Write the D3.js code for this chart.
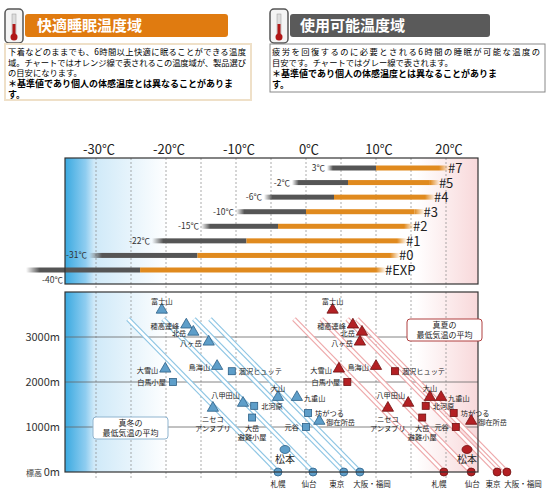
<!DOCTYPE html>
<html><head><meta charset="utf-8">
<script src="https://cdn.jsdelivr.net/npm/d3@7"></script>
<style>body{margin:0;background:#fff}text{font-family:"Noto Sans CJK JP","Noto Sans",sans-serif}</style>
</head><body>
<script>
// top chart: sleeping bag models
var models = ["#7", "#5", "#4", "#3", "#2", "#1", "#0", "#EXP"];
var usableMin = [3, -2, -6, -10, -15, -22, -31, -40];
var comfortMin = [10, 6, 4, 0, -4, -8.5, -15.5, -23.7];
var comfortMax = [19, 17.7, 17, 15.5, 14, 13, 12, 10];
var tempTicks = [-30, -20, -10, 0, 10, 20];
var altTicks = [1000, 2000, 3000];

// bottom chart: places (altitude m, mid-winter low, mid-summer low)
var places = ["富士山", "穂高連峰", "北岳", "八ヶ岳", "大雪山", "鳥海山", "涸沢ヒュッテ", "白馬小屋", "八甲田山", "大山", "九重山", "北河原", "ニセコアンヌプリ", "大岳避難小屋", "元谷", "坊がつる", "御在所岳", "松本"];
var placeType = ["m", "m", "m", "m", "m", "m", "h", "h", "m", "m", "m", "h", "m", "h", "h", "h", "m", "c"];
var placeAlt = [3580, 3250, 3090, 2870, 2270, 2330, 2240, 2000, 1510, 1640, 1640, 1470, 1400, 1210, 1000, 1310, 1110, 500];
var winterLow = [-20.6, -17.1, -16.1, -13.9, -20.1, -12.7, -10.6, -19, -9, -4, -1.3, -7.4, -13.3, -7.7, 0, 0.3, 1.9, -3];
var summerLow = [3.8, 6.7, 8, 7.7, 4.7, 10, 12.7, 5.9, 14.6, 17.7, 19.3, 17.1, 11.7, 16.6, 21.4, 21.1, 23.6, 23];
var cities = ["札幌", "仙台", "東京", "大阪・福岡"];
var cityWinter = [-4, 1, 5.4, 7.7];
var citySummer = [19.7, 23.6, 27.3, 28.7];

var labelPos = {"富士山":"t","穂高連峰":"l","北岳":"l","八ヶ岳":"l","大雪山":"l","鳥海山":"l","涸沢ヒュッテ":"r","白馬小屋":"l","八甲田山":"lt","大山":"t","九重山":"r","北河原":"r","ニセコアンヌプリ":"b","大岳避難小屋":"b","元谷":"l","坊がつる":"r","御在所岳":"r","松本":"b"};
var labelLines = {"ニセコアンヌプリ":["ニセコ","アンヌプリ"],"大岳避難小屋":["大岳","避難小屋"]};
var winterCityShift = [0, -4, -7, 12];
var summerCityShift = [-5, 1, -4, 16];

var svg = d3.select("body").append("svg").attr("width", 550).attr("height", 490);
var defs = svg.append("defs");

var x = d3.scaleLinear().domain([-30, 20]).range([96, 446]);
var y = d3.scaleLinear().domain([0, 3000]).range([472, 337]);
var fL = 65, fR = 478;

// ---------- header panels ----------
function thermo(g, cx) {
  g.append("rect").attr("x", cx - 9).attr("y", 9).attr("width", 18).attr("height", 34).attr("rx", 4)
    .attr("fill", "#f4f4f4").attr("stroke", "#555").attr("stroke-width", 1.5);
  g.append("rect").attr("x", cx - 2).attr("y", 14).attr("width", 4).attr("height", 20).attr("fill", "#ddd").attr("stroke", "#999").attr("stroke-width", 0.5);
  g.append("rect").attr("x", cx - 1.5).attr("y", 24).attr("width", 3).attr("height", 12).attr("fill", "#b01818");
  g.append("circle").attr("cx", cx).attr("cy", 37).attr("r", 3.5).attr("fill", "#b01818");
}
var head = svg.append("g");
head.append("rect").attr("x", 25).attr("y", 14).attr("width", 203).attr("height", 23).attr("rx", 3).attr("fill", "#e07b10");
head.append("rect").attr("x", 290).attr("y", 14).attr("width", 200).attr("height", 23).attr("rx", 3).attr("fill", "#5a5a5a");
head.append("text").attr("x", 37).attr("y", 31).attr("fill", "#fff").attr("font-size", 15).attr("font-weight", "bold").text("快適睡眠温度域");
head.append("text").attr("x", 300).attr("y", 31).attr("fill", "#fff").attr("font-size", 15).attr("font-weight", "bold").text("使用可能温度域");
thermo(head, 14); thermo(head, 279);
head.append("rect").attr("x", 5).attr("y", 44).attr("width", 246).attr("height", 56).attr("fill", "#fff").attr("stroke", "#efe0c8").attr("stroke-width", 2);
head.append("rect").attr("x", 270).attr("y", 44).attr("width", 275).attr("height", 48).attr("fill", "#fff").attr("stroke", "#888").attr("stroke-width", 1);
var leftText = ["下着などのままでも、6時間以上快適に眠ることができる温度", "域。チャートではオレンジ線で表されるこの温度域が、製品選び", "の目安になります。"];
var rightText = ["疲労を回復するのに必要とされる6時間の睡眠が可能な温度の", "目安です。チャートではグレー線で表されます。"];
var note = ["＊基準値であり個人の体感温度とは異なることがありま", "す。"];
leftText.forEach(function(t, i) {
  head.append("text").attr("x", 8).attr("y", 55 + i * 10.5).attr("font-size", 8.3).attr("textLength", i < 2 ? 238 : null).text(t);
});
note.forEach(function(t, i) { head.append("text").attr("x", 8).attr("y", 86.5 + i * 11).attr("font-size", 9).attr("font-weight", "bold").text(t); });
rightText.forEach(function(t, i) {
  head.append("text").attr("x", 272).attr("y", 55 + i * 10.5).attr("font-size", 8.3).attr("textLength", i === 0 ? 268 : null).text(t);
});
note.forEach(function(t, i) { head.append("text").attr("x", 272).attr("y", 77 + i * 11).attr("font-size", 9).attr("font-weight", "bold").text(t); });

// ---------- background gradients ----------
var bg = defs.append("linearGradient").attr("id", "bg").attr("gradientUnits", "userSpaceOnUse")
  .attr("x1", fL).attr("x2", fR).attr("y1", 0).attr("y2", 0);
[[0, "#3aa9e0"], [0.05, "#8fcdf0"], [0.07, "#cfe9f8"], [0.25, "#ffffff"], [0.85, "#ffffff"], [1, "#f8d8da"]]
  .forEach(function(s) { bg.append("stop").attr("offset", s[0]).attr("stop-color", s[1]); });

function frame(top, bottom) {
  svg.append("rect").attr("x", fL).attr("y", top).attr("width", fR - fL).attr("height", bottom - top).attr("fill", "url(#bg)");
  d3.range(-30, 21, 5).forEach(function(t) {
    svg.append("line").attr("x1", x(t)).attr("x2", x(t)).attr("y1", top).attr("y2", bottom + 6)
      .attr("stroke", "#888").attr("stroke-width", 0.7).attr("stroke-dasharray", "2,2");
  });
}
frame(158, 284);
frame(292, 472);

// top temperature axis labels
svg.append("g").selectAll("text").data(tempTicks).enter().append("text")
  .attr("x", function(d) { return x(d) + 3; }).attr("y", 154).attr("text-anchor", "middle")
  .attr("font-size", 13).attr("fill", "#222").text(function(d) { return d + "℃"; });

// ---------- bars ----------
var rowY = d3.scalePoint().domain(models).range([168, 270]);
var gg = defs.append("linearGradient").attr("id", "gfade");
gg.append("stop").attr("offset", 0).attr("stop-color", "#555").attr("stop-opacity", 0);
gg.append("stop").attr("offset", 0.12).attr("stop-color", "#555");
gg.append("stop").attr("offset", 1).attr("stop-color", "#555");
var og = defs.append("linearGradient").attr("id", "ofade");
og.append("stop").attr("offset", 0).attr("stop-color", "#e08a1e");
og.append("stop").attr("offset", 1).attr("stop-color", "#e08a1e").attr("stop-opacity", 0);
var bars = svg.append("g");
models.forEach(function(m, i) {
  var yy = rowY(m);
  bars.append("rect").attr("x", x(usableMin[i])).attr("y", yy - 2.5).attr("width", x(comfortMin[i]) - x(usableMin[i])).attr("height", 5).attr("fill", "url(#gfade)");
  bars.append("rect").attr("x", x(comfortMin[i])).attr("y", yy - 2.5).attr("width", x(comfortMax[i]) - x(comfortMin[i])).attr("height", 5).attr("fill", "#e08a1e");
  bars.append("rect").attr("x", x(comfortMax[i])).attr("y", yy - 2.5).attr("width", 10).attr("height", 5).attr("fill", "url(#ofade)");
  bars.append("text").attr("x", x(comfortMax[i]) + 9).attr("y", yy + 5).attr("font-size", 13).attr("fill", "#222").text(m);
  if (m === "#EXP") {
    bars.append("text").attr("x", 63).attr("y", yy + 13).attr("text-anchor", "end").attr("font-size", 8.5).attr("fill", "#333").text(usableMin[i] + "℃");
  } else {
    bars.append("text").attr("x", x(usableMin[i]) - 2).attr("y", yy + 3).attr("text-anchor", "end").attr("font-size", 8.5).attr("fill", "#333").text(usableMin[i] + "℃");
  }
});
svg.append("rect").attr("x", fL).attr("y", 158).attr("width", fR - fL).attr("height", 126).attr("fill", "none").attr("stroke", "#333").attr("stroke-width", 1.2);

// ---------- altitude chart ----------
var alt = svg.append("g");
altTicks.forEach(function(a) {
  alt.append("line").attr("x1", fL).attr("x2", fR).attr("y1", y(a)).attr("y2", y(a)).attr("stroke", "#666").attr("stroke-width", 0.8);
  alt.append("text").attr("x", 60).attr("y", y(a) + 4).attr("text-anchor", "end").attr("font-size", 11).attr("fill", "#333").text(a + "m");
});
alt.append("text").attr("x", 60).attr("y", y(0) + 4).attr("text-anchor", "end").attr("font-size", 11).attr("fill", "#333")
  .html('<tspan font-size="8">標高 </tspan>0m');

// lapse-rate lines from each city
svg.append("clipPath").attr("id", "clipAlt").append("rect").attr("x", fL).attr("y", 292).attr("width", 500).attr("height", 190);
var lapse = 6.3;
var lines = alt.append("g").attr("clip-path", "url(#clipAlt)");
function lapseLines(temps, col) {
  temps.forEach(function(t) {
    var l = [[x(t), y(0)], [x(t - lapse * 3.4), y(3400)]];
    lines.append("line").attr("x1", l[0][0]).attr("y1", l[0][1]).attr("x2", l[1][0]).attr("y2", l[1][1]).attr("stroke", col).attr("stroke-width", 5);
    lines.append("line").attr("x1", l[0][0]).attr("y1", l[0][1]).attr("x2", l[1][0]).attr("y2", l[1][1]).attr("stroke", "#fff").attr("stroke-width", 2.6);
  });
}
lapseLines(cityWinter, "#8fc6e4");
lapseLines(citySummer, "#eea8aa");

var tri = d3.symbol().type(d3.symbolTriangle).size(55);
function marks(temps, fill, stroke) {
  var g = alt.append("g");
  places.forEach(function(p, i) {
    var px = x(temps[i]), py = y(placeAlt[i]);
    if (placeType[i] === "m") g.append("path").attr("d", tri).attr("transform", "translate(" + px + "," + (py - 1) + ")").attr("fill", fill).attr("stroke", stroke).attr("stroke-width", 0.8);
    else if (placeType[i] === "h") g.append("rect").attr("x", px - 3.5).attr("y", py - 3.5).attr("width", 7).attr("height", 7).attr("fill", fill).attr("stroke", stroke).attr("stroke-width", 0.8);
    else g.append("ellipse").attr("cx", px).attr("cy", py).attr("rx", 5).attr("ry", 4).attr("fill", fill).attr("stroke", stroke).attr("stroke-width", 0.8);
    var pos = labelPos[p], ls = labelLines[p] || [p], fs = 7.2;
    var tx = px, ty = py + 3, anc = "middle";
    if (pos === "l") { tx = px - 7; anc = "end"; }
    else if (pos === "r") { tx = px + 7; anc = "start"; }
    else if (pos === "t") { ty = py - 7; }
    else if (pos === "lt") { tx = px - 3; ty = py - 6; anc = "end"; }
    else if (pos === "b") { ty = py + 13; }
    ls.forEach(function(s, k) {
      g.append("text").attr("x", tx).attr("y", ty + k * 9).attr("text-anchor", anc).attr("font-size", p === "松本" ? 10 : fs).attr("fill", "#222").text(s);
    });
  });
  return g;
}
marks(winterLow, "#5e9ec9", "#2c5f86");
marks(summerLow, "#b32024", "#701010");

function cityMarks(temps, shift, fill, stroke) {
  cities.forEach(function(c, i) {
    alt.append("circle").attr("cx", x(temps[i])).attr("cy", y(0)).attr("r", 4).attr("fill", fill).attr("stroke", stroke).attr("stroke-width", 0.8);
    alt.append("text").attr("x", x(temps[i]) + shift[i]).attr("y", y(0) + 15).attr("text-anchor", "middle").attr("font-size", 7.5).attr("fill", "#222").text(c);
  });
}
cityMarks(cityWinter, winterCityShift, "#5e9ec9", "#2c5f86");
cityMarks(citySummer, summerCityShift, "#b32024", "#701010");

svg.append("rect").attr("x", fL).attr("y", 292).attr("width", fR - fL).attr("height", 180).attr("fill", "none").attr("stroke", "#333").attr("stroke-width", 1.2);

// legend boxes
function legendBox(bx, by, col, lines2) {
  var g = svg.append("g");
  g.append("rect").attr("x", bx).attr("y", by).attr("width", 75).attr("height", 22).attr("rx", 3).attr("fill", "#fff").attr("stroke", col).attr("stroke-width", 1);
  lines2.forEach(function(s, k) {
    g.append("text").attr("x", bx + 37.5).attr("y", by + 9 + k * 10).attr("text-anchor", "middle").attr("font-size", 8).attr("fill", "#222").text(s);
  });
}
legendBox(93, 417, "#8fb4cf", ["真冬の", "最低気温の平均"]);
legendBox(407, 319, "#b04040", ["真夏の", "最低気温の平均"]);
</script>
</body></html>
